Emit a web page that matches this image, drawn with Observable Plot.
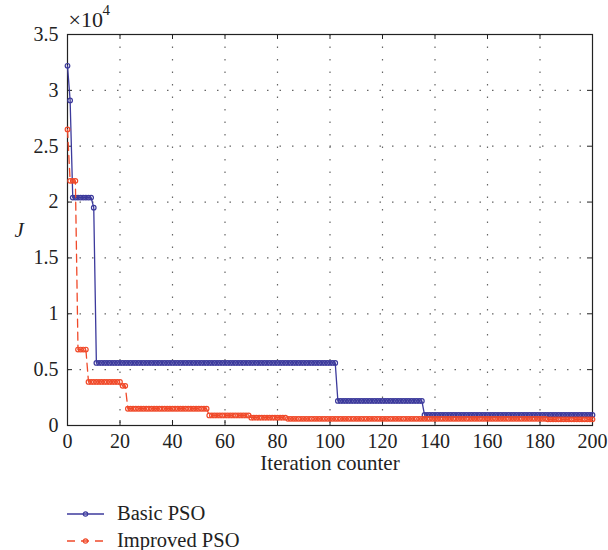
<!DOCTYPE html>
<html>
<head>
<meta charset="utf-8">
<script src="https://cdn.jsdelivr.net/npm/d3@7"></script>
<script src="https://cdn.jsdelivr.net/npm/@observablehq/plot@0.6"></script>
<style>
  body { margin: 0; background: white; font-family: "Liberation Serif", serif; }
  #wrap { width: 608px; height: 550px; position: relative; }
  #wrap svg, #wrap svg text { font-family: "Liberation Serif", serif !important; }
  .leg { position: absolute; left: 67px; display: flex; align-items: center; font-size: 20.5px; color: #222; }
  .leg svg { margin-right: 13px; }
</style>
</head>
<body>
<div id="wrap"></div>
<script>
// Step runs: [first iteration, J (×10^4)]
const iterations = d3.range(0, 201);
const basicSteps = [[0, 3.22], [1, 2.91], [2, 2.04], [10, 1.95], [11, 0.56], [103, 0.22], [136, 0.095]];
const improvedSteps = [[0, 2.65], [1, 2.19], [4, 0.68], [8, 0.39], [21, 0.355], [23, 0.15], [54, 0.09], [70, 0.07], [84, 0.06], [183, 0.055]];
const xTicks = [0, 20, 40, 60, 80, 100, 120, 140, 160, 180, 200];
const yTicks = [0, 0.5, 1, 1.5, 2, 2.5, 3, 3.5];
const seriesNames = ["Basic PSO", "Improved PSO"];
const blue = "#3c3a9c";
const red = "#f04a2a";

function expand(steps) {
  return iterations.map(i => {
    let v = steps[0][1];
    for (const [s, val] of steps) if (i >= s) v = val;
    return {iter: i, J: v};
  });
}
const basic = expand(basicSteps);
const improved = expand(improvedSteps);

const W = 608, H = 490, mL = 67, mR = 16, mT = 34, mB = 65;
const plotH = H - mT - mB, plotW = W - mL - mR;
const tk = 5;

const chart = Plot.plot({
  width: W, height: H,
  marginLeft: mL, marginRight: mR, marginTop: mT, marginBottom: mB,
  style: {fontFamily: "'Liberation Serif', serif", fontSize: "20px", background: "white", color: "#222", overflow: "visible"},
  x: {domain: [0, 200]},
  y: {domain: [0, 3.5]},
  marks: [
    Plot.gridX(xTicks.slice(1, -1), {stroke: "#666", strokeOpacity: 1, strokeWidth: 1.2, strokeDasharray: "1.5,11"}),
    Plot.gridY(yTicks.slice(1, -1), {stroke: "#666", strokeOpacity: 1, strokeWidth: 1.2, strokeDasharray: "1.5,11"}),
    Plot.tickX(xTicks, {x: d => d, insetTop: plotH - tk, stroke: "#222"}),
    Plot.tickX(xTicks, {x: d => d, insetBottom: plotH - tk, stroke: "#222"}),
    Plot.tickY(yTicks, {y: d => d, insetRight: plotW - tk, stroke: "#222"}),
    Plot.tickY(yTicks, {y: d => d, insetLeft: plotW - tk, stroke: "#222"}),
    Plot.frame({stroke: "#222", strokeWidth: 1.2}),
    Plot.axisX(xTicks, {tickSize: 0, tickPadding: 8, label: null, fontSize: 20, tickFormat: d => String(d)}),
    Plot.axisY(yTicks, {tickSize: 0, tickPadding: 9, label: null, fontSize: 20, tickFormat: d => String(d)}),
    Plot.line(basic, {x: "iter", y: "J", stroke: blue, strokeWidth: 1.3}),
    Plot.dot(basic, {x: "iter", y: "J", r: 2.3, stroke: blue, strokeWidth: 1.2, fill: "none"}),
    Plot.line(improved, {x: "iter", y: "J", stroke: red, strokeWidth: 1.3, strokeDasharray: "8,5"}),
    Plot.dot(improved, {x: "iter", y: "J", r: 2.3, stroke: red, strokeWidth: 1.2, fill: "none"}),
    Plot.text(["Iteration counter"], {frameAnchor: "bottom", dy: 44, fontSize: 21, fill: "#222"}),
    Plot.text(["J"], {frameAnchor: "left", dx: -53, fontSize: 21, fontStyle: "italic", fill: "#222"}),
    Plot.text(["×10"], {frameAnchor: "top-left", dx: 1, dy: -8, lineAnchor: "bottom", textAnchor: "start", fontSize: 22, fill: "#222"}),
    Plot.text(["4"], {frameAnchor: "top-left", dx: 35, dy: -20, lineAnchor: "bottom", textAnchor: "start", fontSize: 15, fill: "#222"})
  ]
});

const wrap = document.getElementById("wrap");
wrap.appendChild(chart);

const legendItems = [
  {name: seriesNames[0], color: blue, dash: null, top: 502},
  {name: seriesNames[1], color: red, dash: "8,6", top: 529}
];
for (const it of legendItems) {
  const row = document.createElement("div");
  row.className = "leg";
  row.style.top = it.top + "px";
  row.innerHTML = `<svg width="37" height="20"><line x1="0" x2="37" y1="10" y2="10" stroke="${it.color}" stroke-width="1.3" ${it.dash ? `stroke-dasharray="${it.dash}"` : ""}/><circle cx="18.5" cy="10" r="2.2" fill="none" stroke="${it.color}" stroke-width="1.2"/></svg><span>${it.name}</span>`;
  wrap.appendChild(row);
}
</script>
</body>
</html>
